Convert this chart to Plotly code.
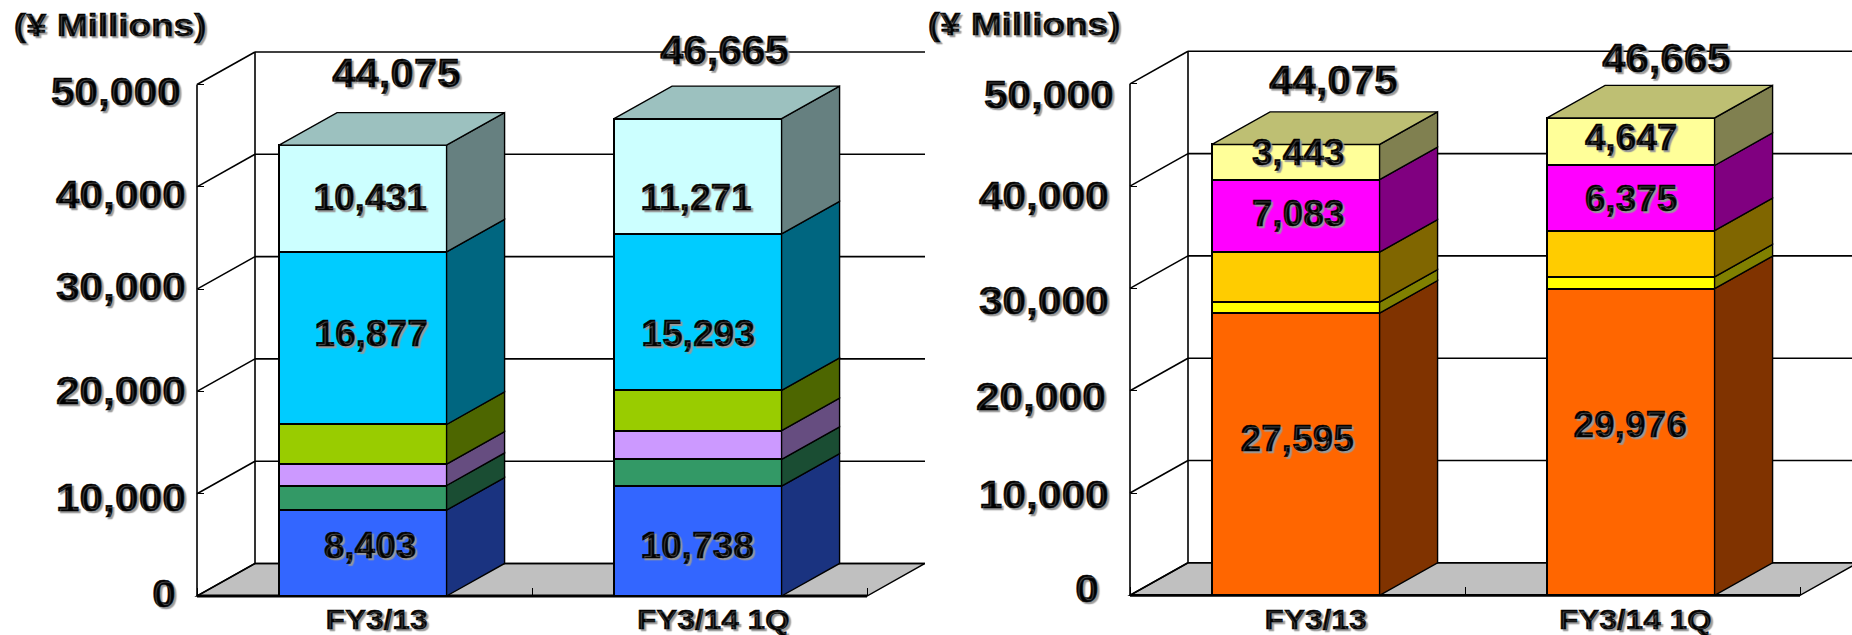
import plotly.graph_objects as go

W, H = 1852, 635

categories = ["FY3/13", "FY3/14 1Q"]
totals = [44075, 46665]
y_ticks = [0, 10000, 20000, 30000, 40000, 50000]
unit_label = "(¥ Millions)"

# left chart, bottom to top
left_blue = [8403, 10738]
left_green = [2400, 2620]
left_purple = [2080, 2800]
left_lime = [3884, 3943]
left_cyan = [16877, 15293]
left_pale = [10431, 11271]

# right chart, bottom to top
right_orange = [27595, 29976]
right_yellow = [1065, 1150]
right_gold = [4889, 4517]
right_magenta = [7083, 6375]
right_pale = [3443, 4647]

# (values, front colour, side colour)
left_series = [
    (left_blue, "#3366FF", "#1A3380"),
    (left_green, "#339966", "#1A4D33"),
    (left_purple, "#CC99FF", "#664D80"),
    (left_lime, "#99CC00", "#4D6600"),
    (left_cyan, "#00CCFF", "#006680"),
    (left_pale, "#CCFFFF", "#668080"),
]
right_series = [
    (right_orange, "#FF6600", "#803300"),
    (right_yellow, "#FFFF00", "#808000"),
    (right_gold, "#FFCC00", "#806600"),
    (right_magenta, "#FF00FF", "#800080"),
    (right_pale, "#FFFF99", "#808050"),
]

BAR_W = 0.5
DX = 58 / 335      # depth in category units
DY = 3180          # depth in value units
XS = [0.495, 1.495]  # bar centres


def fmt(v):
    return f"{v:,}"


fig = go.Figure()
shapes = []
annotations = []
stretches = []


def text(s, px, py, size, stretch):
    stretches.append(stretch)
    annotations.append(dict(
        text=f"<b>{s}</b>", xref="paper", yref="paper", x=px / W, y=1 - py / H,
        xanchor="center", yanchor="middle", showarrow=False,
        font=dict(family="Liberation Sans", size=size, color="black",
                  shadow="2px 2px 1px #999999"),
    ))


def panel(series, top_colour, suffix, dom_x, front_x, base_px, xmax):
    xa, ya = f"x{suffix}", f"y{suffix}"
    ref = dict(xref=xa, yref=ya, layer="below")
    line = dict(color="black", width=1.6)
    shapes.append(dict(type="path", path=f"M 0 0 L 2 0 L {2 + DX} {DY} L {DX} {DY} Z",
                       fillcolor="#C0C0C0", line=dict(color="black", width=1.4), **ref))
    for t in y_ticks:
        shapes.append(dict(type="line", x0=DX, x1=xmax + 1, y0=t + DY, y1=t + DY, line=line, **ref))
        shapes.append(dict(type="line", x0=0, x1=DX, y0=t, y1=t + DY, line=line, **ref))
    shapes.append(dict(type="line", x0=0, x1=0, y0=0, y1=y_ticks[-1], line=line, **ref))
    shapes.append(dict(type="line", x0=DX, x1=DX, y0=DY, y1=y_ticks[-1] + DY, line=line, **ref))
    shapes.append(dict(type="line", x0=0, x1=2, y0=0, y1=0,
                       line=dict(color="black", width=2.8), **ref))

    base = [0, 0]
    for vals, front, side in series:
        fig.add_trace(go.Bar(x=XS, y=vals, width=BAR_W, xaxis=xa, yaxis=ya, showlegend=False,
                             marker=dict(color=front, line=dict(color="black", width=2)),
                             hoverinfo="y"))
        px, py = [], []
        for i, xc in enumerate(XS):
            r = xc + BAR_W / 2
            b, t = base[i], base[i] + vals[i]
            px += [r, r + DX, r + DX, r, r, None]
            py += [b, b + DY, t + DY, t, b, None]
        fig.add_trace(go.Scatter(x=px, y=py, xaxis=xa, yaxis=ya, mode="lines", fill="toself",
                                 fillcolor=side, line=dict(color="black", width=1.4),
                                 showlegend=False, hoverinfo="skip"))
        base = [base[i] + vals[i] for i in range(2)]

    px, py = [], []
    for i, xc in enumerate(XS):
        l, r = xc - BAR_W / 2, xc + BAR_W / 2
        t = base[i]
        px += [l, r, r + DX, l + DX, l, None]
        py += [t, t, t + DY, t + DY, t, None]
    fig.add_trace(go.Scatter(x=px, y=py, xaxis=xa, yaxis=ya, mode="lines", fill="toself",
                             fillcolor=top_colour, line=dict(color="black", width=1.4),
                             showlegend=False, hoverinfo="skip"))

    left_px = front_x - 7
    bottom_px = base_px + 7
    top_px = base_px - 546
    fig.update_layout(**{
        f"xaxis{suffix}": dict(
            domain=[left_px / W, dom_x / W], range=[-7 / 335, (dom_x - front_x) / 335],
            showgrid=False, zeroline=False, showline=False, showticklabels=False,
            tickvals=[0, 1, 2], ticks="inside", ticklen=8, tickwidth=1.2, tickcolor="black",
            anchor="free", position=1 - base_px / H,
        ),
        f"yaxis{suffix}": dict(
            domain=[1 - bottom_px / H, 1 - top_px / H], range=[-684, 53376],
            showgrid=False, zeroline=False, showline=False, showticklabels=False,
            tickvals=y_ticks, ticks="inside", ticklen=6, tickwidth=1.2, tickcolor="black",
            anchor="free", position=front_x / W,
        ),
    })


panel(left_series, "#9CC1BF", "", 925, 197, 596, 2.2)
panel(right_series, "#BEBF73", "2", 1852, 1130, 595.3, 2.2)

# text placed where the reference has it (hand-positioned in the original)
text(unit_label, 110, 25, 31, 1.19)
text(unit_label, 1024, 24, 31, 1.19)

for t, (px, py) in zip(y_ticks, [(164, 593), (121, 497), (121, 390), (121, 287), (120, 194), (116, 91)]):
    text(fmt(t), px, py, 39, 1.09)
for t, (px, py) in zip(y_ticks, [(1087, 588), (1043, 495), (1040, 396), (1043, 300), (1043, 195), (1048, 94)]):
    text(fmt(t), px, py, 39, 1.09)

for c, px in zip(categories + categories, [376, 713, 1315, 1635]):
    text(c, px, 620, 27, 1.17)

for v, (px, py) in zip(totals + totals, [(396, 73), (724, 50), (1333, 80), (1666, 58)]):
    text(fmt(v), px, py, 40, 1.05)

inner = [
    (left_pale[0], 370, 197), (left_pale[1], 696, 197),
    (left_cyan[0], 371, 333), (left_cyan[1], 698, 333),
    (left_blue[0], 370, 545), (left_blue[1], 697, 545),
    (right_pale[0], 1298, 152), (right_pale[1], 1631, 137),
    (right_magenta[0], 1298, 213), (right_magenta[1], 1631, 198),
    (right_orange[0], 1297, 438), (right_orange[1], 1630, 424),
]
for v, px, py in inner:
    text(fmt(v), px, py, 36, 1.03)

fig.update_layout(
    width=W, height=H, autosize=False, margin=dict(l=0, r=0, t=0, b=0),
    paper_bgcolor="white", plot_bgcolor="rgba(0,0,0,0)", barmode="stack",
    showlegend=False, shapes=shapes, annotations=annotations,
)

# Remove the page margin; the reference text is slightly stretched and heavy
post = """
document.body.style.margin = '0';
var stretches = %s;
document.querySelectorAll('.annotation-text').forEach(function(t, i){
  var w = t.getComputedTextLength();
  t.setAttribute('textLength', w * stretches[i]);
  t.setAttribute('lengthAdjust', 'spacingAndGlyphs');
  t.style.stroke = 'black';
  t.style.strokeWidth = '0.5px';
});
""" % stretches
fig.write_html("out.html", post_script=post, config=dict(displayModeBar=False))
